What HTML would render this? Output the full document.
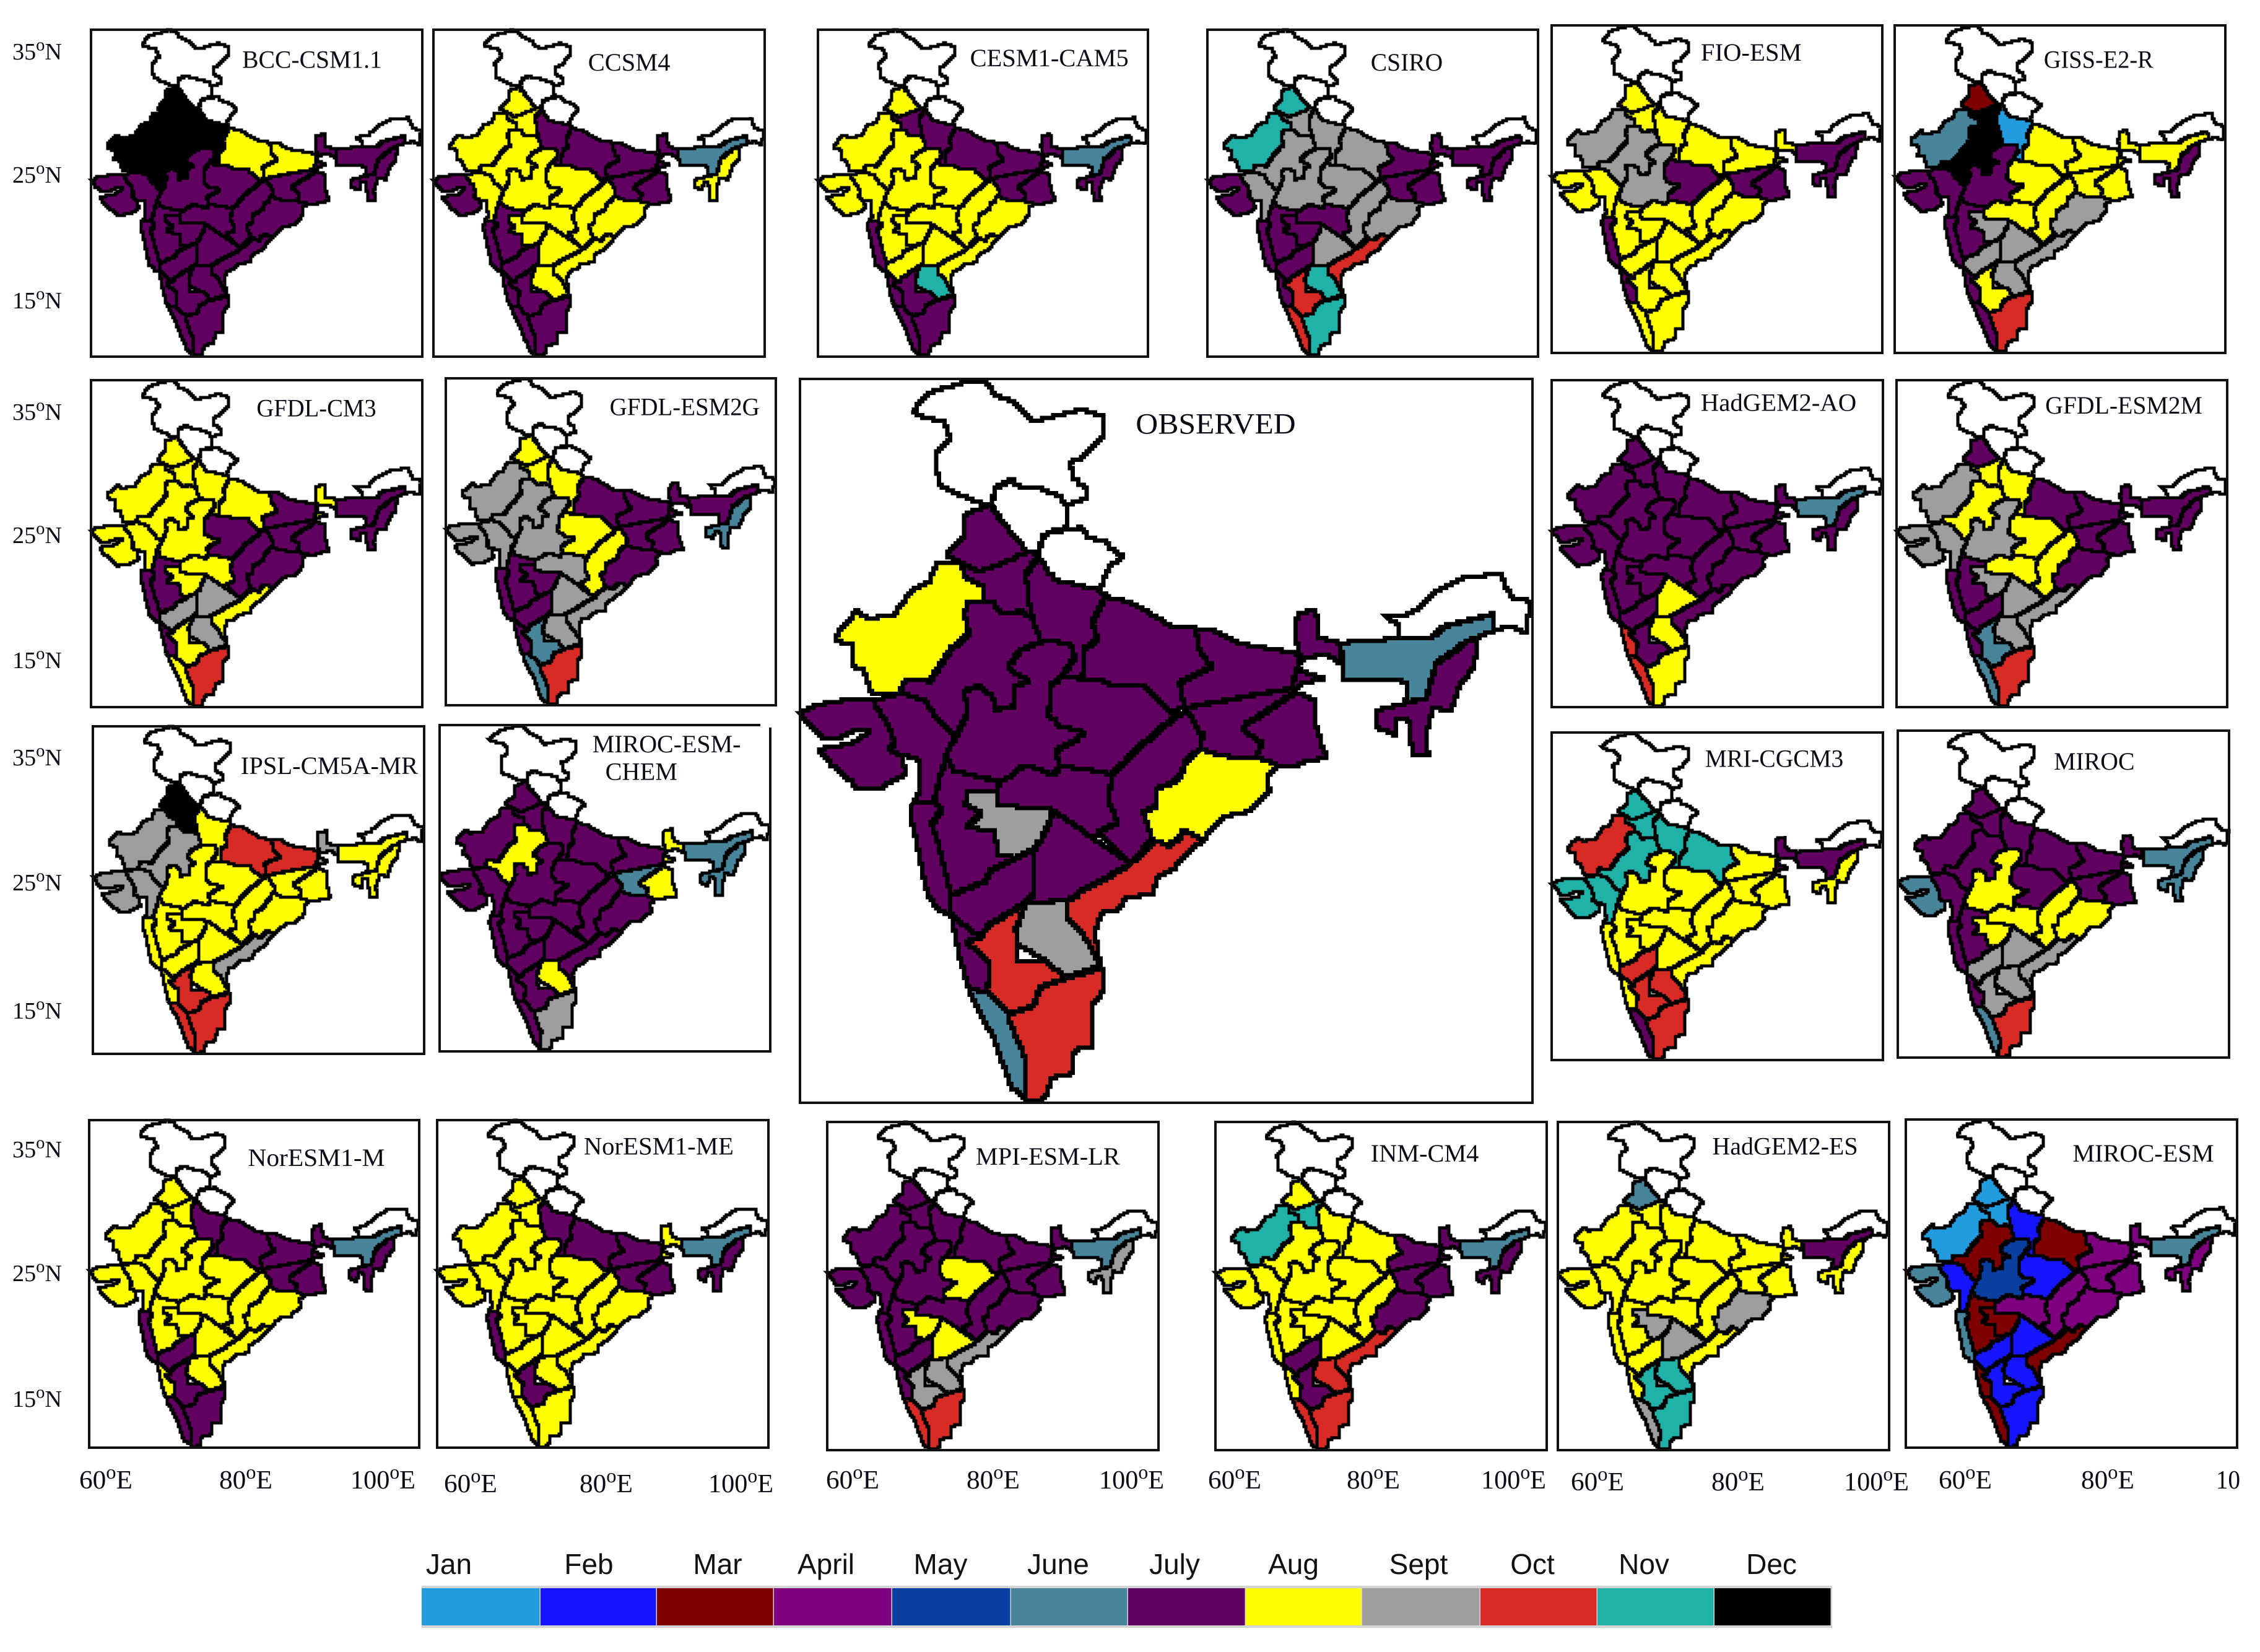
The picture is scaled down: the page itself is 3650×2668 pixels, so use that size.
<!DOCTYPE html>
<html lang="en">
<head>
<meta charset="utf-8">
<title>Monsoon peak month maps of India</title>
<style>
html,body{margin:0;padding:0;background:#fff;width:3650px;height:2668px;overflow:hidden}
svg{display:block}
text{font-family:"Liberation Serif",serif;fill:#0a0a14}
.leg{font-family:"Liberation Sans",sans-serif;font-size:46px;fill:#111}
</style>
</head>
<body>
<svg id="figure" xmlns="http://www.w3.org/2000/svg" width="3650" height="2668" viewBox="0 0 3650 2668"></svg>
<script>
const months=["Jan","Feb","Mar","April","May","June","July","Aug","Sept","Oct","Nov","Dec"];
const monthColors=["#229bdf","#1515ff","#7f0000","#7f007f","#083fa0","#48859b","#620062","#ffff00","#9e9e9e","#d92b26","#20b2a8","#000000"];
const regionNames=["punjab","haryana","west-rajasthan","east-rajasthan","west-up","east-up","bihar","jharkhand","gangetic-wb","sub-himalayan-wb","assam-meghalaya","nmmt","saurashtra-kutch","gujarat","west-mp","east-mp","chhattisgarh","odisha","vidarbha","marathwada","madhya-maharashtra","konkan-goa","north-karnataka","telangana","coastal-andhra","rayalaseema","south-karnataka","coastal-karnataka","kerala","tamil-nadu"];

// Peak month (1-12) per subdivision, in regionNames order
const observedMonths=[7,7,8,7,7,7,7,7,7,7,6,7,7,7,7,7,7,8,7,9,7,7,7,7,10,9,10,7,6,10];
const bccMonths=[12,12,12,12,12,8,8,7,7,7,7,7,7,7,7,7,7,7,7,7,7,7,7,7,7,7,7,7,7,7];
const ccsm4Months=[8,8,8,8,7,7,7,7,7,7,6,8,7,8,8,8,8,8,8,8,7,7,7,8,8,8,7,7,7,7];
const cesmMonths=[8,7,8,8,7,7,7,7,7,7,6,7,8,8,8,8,8,8,8,8,8,7,8,8,8,11,7,7,7,7];
const csiroMonths=[11,9,11,9,9,9,7,7,7,7,7,7,7,9,9,9,9,9,7,7,7,7,7,9,10,11,10,7,10,11];
const fioMonths=[8,8,9,9,8,8,8,7,7,8,7,7,8,8,9,7,8,8,8,8,8,7,8,8,8,8,8,7,8,8];
const gissMonths=[3,12,6,12,1,8,8,8,8,8,8,7,7,7,7,8,8,9,8,9,7,7,9,9,9,9,8,7,7,10];
const gfdlCm3Months=[8,8,8,8,8,8,7,7,7,8,7,7,8,8,8,7,7,7,8,8,7,7,9,9,8,9,8,7,8,10];
const gfdlEsm2gMonths=[8,8,9,9,8,7,7,7,7,7,7,6,9,9,9,8,8,7,9,7,7,7,7,9,9,9,6,7,6,10];
const hadAoMonths=[7,7,7,7,7,7,7,7,7,7,6,7,7,7,7,7,7,7,7,7,7,7,7,8,7,8,7,10,10,8];
const gfdlEsm2mMonths=[7,8,9,8,8,7,7,7,7,7,7,7,9,9,9,8,8,7,8,9,7,7,7,9,9,9,6,7,6,10];
const ipslMonths=[12,12,9,9,8,10,10,8,8,9,8,8,9,9,8,8,8,8,8,8,8,8,8,8,9,8,10,8,10,10];
const chemMonths=[7,7,7,8,7,7,7,6,8,8,6,6,7,7,7,7,7,7,7,7,7,7,7,7,7,8,7,7,7,9];
const mriMonths=[11,11,10,11,11,11,8,8,8,7,7,8,11,11,8,8,8,8,8,8,8,8,10,8,8,10,10,8,7,10];
const mirocMonths=[7,7,7,7,7,7,7,7,7,7,6,6,6,7,8,7,8,8,8,8,7,7,9,9,9,9,9,7,6,10];
const norMMonths=[8,8,8,8,7,7,7,7,7,7,6,7,8,8,8,8,8,8,8,8,8,7,7,8,8,8,7,8,7,7];
const norMeMonths=[8,8,8,8,7,7,7,7,7,8,6,7,8,8,8,8,8,8,8,8,8,7,8,8,8,8,7,8,8,8];
const mpiMonths=[7,7,7,7,7,7,7,7,7,7,6,9,7,7,7,8,7,7,7,8,7,7,7,8,9,9,9,7,10,10];
const inmMonths=[8,11,11,8,8,8,7,7,7,7,6,7,8,8,8,8,8,7,8,8,8,8,7,8,10,10,7,8,10,10];
const hadEsMonths=[6,8,8,8,8,8,8,8,8,8,7,8,8,8,8,8,8,9,8,9,8,8,8,9,8,11,11,8,9,11];
const mirocEsmMonths=[1,1,1,3,2,3,4,4,4,4,6,4,6,2,5,2,4,4,4,3,3,6,2,2,3,2,2,3,3,2];

// Basemap outlines (template coordinates; frame runs 50..1478 by 27..1530)
const mapLeft=50,mapRight=1478,mapTop=27,mapBottom=1530;
const whiteAreas=[
 ["jammu-kashmir",[[265,95],[300,55],[380,30],[410,35],[430,60],[470,80],[500,115],[545,105],[595,90],[640,105],[640,150],[605,190],[578,200],[580,235],[605,250],[610,275],[570,290],[555,270],[515,255],[480,250],[460,238],[430,255],[425,288],[395,282],[370,270],[320,245],[315,180],[345,145],[330,115],[290,105]]],
 ["himachal",[[425,288],[430,255],[460,238],[480,250],[515,255],[555,270],[570,290],[572,335],[525,350],[515,385],[495,385],[455,335]]],
 ["uttarakhand",[[515,385],[525,350],[572,340],[595,335],[610,355],[640,365],[680,398],[650,425],[635,465],[590,455],[545,445],[515,398]]],
 ["arunachal",[[1190,520],[1240,515],[1285,470],[1340,440],[1415,432],[1435,480],[1475,490],[1470,520],[1465,555],[1440,540],[1405,550],[1400,515],[1310,540],[1280,565],[1220,565],[1215,535]]]
];
const regionShapes=[
 [[420,290],[372,310],[372,355],[335,393],[365,410],[395,428],[440,410],[495,385],[455,335]],
 [[365,410],[395,428],[440,410],[495,385],[515,398],[490,430],[495,480],[505,525],[480,510],[440,515],[425,490],[410,487],[410,460],[370,440]],
 [[315,410],[365,410],[370,440],[410,460],[410,487],[380,490],[370,515],[380,555],[345,590],[300,655],[255,650],[245,680],[190,680],[175,630],[150,620],[155,580],[120,570],[125,545],[160,510],[180,525],[235,515],[265,465],[300,450]],
 [[380,490],[410,487],[425,490],[440,515],[480,510],[505,525],[520,572],[480,590],[455,625],[500,655],[470,665],[470,705],[430,715],[425,685],[395,665],[370,675],[378,720],[355,765],[320,740],[290,695],[245,680],[255,650],[300,655],[345,590],[380,555],[370,515]],
 [[515,398],[545,445],[590,455],[635,465],[645,480],[620,530],[630,565],[605,590],[600,650],[560,645],[585,605],[575,575],[520,572],[505,525],[495,480],[490,430]],
 [[645,480],[690,490],[770,540],[820,545],[830,590],[855,625],[790,660],[800,710],[770,720],[720,665],[660,665],[630,650],[600,650],[605,590],[630,565],[620,530]],
 [[820,545],[850,545],[900,575],[1005,595],[1025,600],[1010,670],[900,690],[800,710],[790,660],[855,625],[830,590]],
 [[800,710],[900,690],[1010,670],[1015,678],[920,745],[915,755],[950,780],[940,815],[870,810],[830,795],[835,770]],
 [[1015,678],[1055,695],[1055,745],[1075,815],[1040,820],[1020,830],[985,830],[940,815],[950,780],[915,755],[920,745]],
 [[1020,515],[1055,505],[1062,565],[1105,575],[1105,615],[1080,600],[1035,605],[1020,630],[1070,650],[1030,660],[1015,678],[1010,670],[1025,600],[1015,555]],
 [[1105,575],[1220,565],[1280,565],[1310,540],[1400,515],[1405,550],[1345,575],[1290,620],[1270,690],[1230,700],[1235,660],[1215,650],[1110,650]],
 [[1345,575],[1370,565],[1365,625],[1340,660],[1320,715],[1285,710],[1270,770],[1275,810],[1245,810],[1235,730],[1215,730],[1210,765],[1175,750],[1175,715],[1230,700],[1270,690],[1290,620]],
 [[50,720],[75,705],[130,695],[190,695],[220,740],[235,780],[225,795],[250,810],[255,850],[215,875],[170,880],[130,845],[88,795],[150,784],[184,757],[160,757],[130,772],[96,772]],
 [[190,695],[245,680],[290,695],[320,740],[355,770],[335,810],[325,850],[310,905],[270,905],[285,880],[280,815],[260,810],[250,810],[225,795],[235,780],[220,740]],
 [[378,720],[370,675],[395,665],[425,685],[430,715],[470,705],[470,665],[500,655],[455,625],[480,590],[520,572],[575,575],[585,605],[560,645],[540,665],[535,720],[560,750],[610,760],[550,800],[555,830],[545,850],[490,830],[450,860],[400,855],[350,840],[335,810],[355,765]],
 [[560,645],[600,650],[630,650],[660,665],[720,665],[770,720],[790,725],[710,790],[660,850],[620,840],[555,830],[550,800],[610,760],[560,750],[535,720],[540,665]],
 [[790,725],[800,710],[835,770],[830,795],[800,825],[790,855],[745,880],[745,915],[720,925],[740,985],[695,1032],[650,985],[635,965],[670,950],[650,900],[660,850],[710,790]],
 [[830,795],[870,810],[940,815],[985,830],[960,855],[965,885],[930,925],[880,935],[835,985],[800,965],[770,1000],[745,985],[705,1022],[695,1032],[740,985],[720,925],[745,915],[745,880],[790,855],[800,825]],
 [[440,862],[490,830],[545,850],[555,830],[620,840],[660,850],[650,900],[670,950],[635,965],[625,985],[545,925],[530,918],[470,915],[435,912],[435,885]],
 [[375,885],[435,885],[435,912],[470,915],[530,918],[545,925],[520,985],[505,1005],[470,1022],[435,1015],[430,965],[375,960],[400,930],[372,910]],
 [[325,850],[335,810],[350,840],[400,855],[440,862],[435,885],[375,885],[372,910],[400,930],[375,960],[430,965],[435,1015],[470,1022],[420,1050],[410,1072],[345,1100],[320,1000],[305,950],[325,925],[310,905]],
 [[270,905],[310,905],[325,925],[305,950],[320,1000],[345,1100],[345,1140],[325,1130],[300,1100],[280,1000],[265,930]],
 [[345,1100],[410,1072],[420,1050],[470,1022],[505,1005],[505,1100],[490,1115],[415,1165],[400,1190],[345,1140]],
 [[545,925],[625,985],[695,1035],[610,1085],[570,1110],[490,1115],[505,1100],[505,1005],[520,985]],
 [[695,1035],[705,1022],[745,985],[770,1000],[800,965],[835,985],[785,1040],[745,1065],[740,1095],[690,1105],[670,1130],[640,1135],[625,1180],[635,1245],[600,1180],[570,1150],[570,1110],[610,1085]],
 [[490,1115],[570,1110],[570,1150],[600,1180],[635,1245],[565,1272],[530,1235],[475,1200],[470,1175]],
 [[415,1165],[490,1115],[470,1175],[475,1235],[530,1235],[565,1272],[520,1290],[505,1330],[455,1345],[415,1300],[420,1240],[372,1195],[400,1190]],
 [[345,1140],[400,1190],[372,1195],[420,1240],[415,1300],[380,1295],[360,1220]],
 [[380,1295],[415,1300],[455,1345],[490,1440],[488,1520],[460,1490],[430,1400]],
 [[455,1345],[505,1330],[520,1290],[565,1272],[640,1250],[640,1300],[620,1330],[620,1415],[585,1420],[580,1470],[540,1480],[530,1522],[488,1525],[490,1440]]
];

const K=3650/1568;
const panels=[
 {id:"bcc-csm11",v:bccMonths,f:[147,48,682,576],t:[["BCC-CSM1.1",168,265,47]]},
 {id:"ccsm4",v:ccsm4Months,f:[700,48,1235,576],t:[["CCSM4",408,465,49]]},
 {id:"cesm1-cam5",v:cesmMonths,f:[1321,48,1854,576],t:[["CESM1-CAM5",673,783,46]]},
 {id:"csiro",v:csiroMonths,f:[1950,48,2484,576],t:[["CSIRO",951,1001,49]]},
 {id:"fio-esm",v:fioMonths,f:[2506,41,3040,570],t:[["FIO-ESM",1180,1250,42]]},
 {id:"giss-e2-r",v:gissMonths,f:[3060,41,3594,570],t:[["GISS-E2-R",1418,1494,47]]},
 {id:"gfdl-cm3",v:gfdlCm3Months,f:[147,614,682,1142],t:[["GFDL-CM3",178,261,289]]},
 {id:"gfdl-esm2g",v:gfdlEsm2gMonths,f:[720,611,1253,1139],t:[["GFDL-ESM2G",423,527,288]]},
 {id:"observed",v:observedMonths,f:[1292,612,2475,1781],t:[["OBSERVED",788,899,301]],big:true},
 {id:"hadgem2-ao",v:hadAoMonths,f:[2506,614,3041,1142],t:[["HadGEM2-AO",1180,1288,285]]},
 {id:"gfdl-esm2m",v:gfdlEsm2mMonths,f:[3063,614,3597,1142],t:[["GFDL-ESM2M",1419,1528,287]]},
 {id:"ipsl-cm5a-mr",v:ipslMonths,f:[150,1173,685,1702],t:[["IPSL-CM5A-MR",167,290,537]]},
 {id:"miroc-esm-chem",v:chemMonths,f:[710,1171,1244,1698],t:[["MIROC-ESM-",411,514,522],["CHEM",420,470,541]]},
 {id:"mri-cgcm3",v:mriMonths,f:[2506,1183,3041,1712],t:[["MRI-CGCM3",1183,1279,532]]},
 {id:"miroc",v:mirocMonths,f:[3065,1180,3600,1708],t:[["MIROC",1425,1481,534]]},
 {id:"noresm1-m",v:norMMonths,f:[144,1809,677,2338],t:[["NorESM1-M",172,267,809]]},
 {id:"noresm1-me",v:norMeMonths,f:[706,1809,1241,2338],t:[["NorESM1-ME",405,509,801]]},
 {id:"mpi-esm-lr",v:mpiMonths,f:[1336,1812,1871,2342],t:[["MPI-ESM-LR",677,777,808]]},
 {id:"inm-cm4",v:inmMonths,f:[1963,1812,2498,2342],t:[["INM-CM4",951,1026,806]]},
 {id:"hadgem2-es",v:hadEsMonths,f:[2516,1812,3051,2342],t:[["HadGEM2-ES",1188,1289,801]]},
 {id:"miroc-esm",v:mirocEsmMonths,f:[3078,1808,3613,2338],t:[["MIROC-ESM",1438,1536,806]]}
];

const latValues=["35","25","15"];
const latRows=[[96,295,498],[678,877,1079],[1236,1438,1645],[1869,2069,2272]];
const lonValues=["60","80","100"];
const lonRows=[
 {y:2404,x:[128,354,566]},
 {y:2410,x:[717,936,1144]},
 {y:2404,x:[1334,1561,1775]},
 {y:2404,x:[1951,2175,2392]},
 {y:2407,x:[2537,2764,2978]},
 {y:2404,x:[3131,3361,3579]}
];
const legendEdges=[681,873,1061,1250,1441,1633,1822,2012,2200,2391,2580,2769,2958];
const legendCenters=[725,951,1159,1334,1519,1709,1897,2089,2291,2475,2655,2861];

const NS="http://www.w3.org/2000/svg";
const fig=document.getElementById("figure");
function mk(tag,attrs,parent){
  const e=document.createElementNS(NS,tag);
  for(const k in attrs)e.setAttribute(k,attrs[k]);
  (parent||fig).appendChild(e);
  return e;
}
function stairPath(pts,sx,sy,ox,oy,cell){
  const snap=v=>Math.round(v/cell)*cell;
  let d="",cx=null,cy=null;
  const P=pts.map(p=>[ox+(p[0]-mapLeft)*sx,oy+(p[1]-mapTop)*sy]);
  for(let i=0;i<P.length;i++){
    const a=P[i],b=P[(i+1)%P.length];
    const n=Math.max(1,Math.ceil(Math.max(Math.abs(b[0]-a[0]),Math.abs(b[1]-a[1]))/cell));
    for(let s=0;s<n;s++){
      const x=snap(a[0]+(b[0]-a[0])*s/n),y=snap(a[1]+(b[1]-a[1])*s/n);
      if(cx===null){d+="M"+x+" "+y;}
      else{
        if(x!==cx)d+="H"+x;
        if(y!==cy)d+="V"+y;
      }
      cx=x;cy=y;
    }
  }
  return d+"Z";
}
function monthColor(m){return monthColors[m-1];}

panels.forEach(function(p){
  const g=mk("g",{});
  
  
  const [x0,y0,x1,y1]=p.f;
  const sx=(x1-x0)/(mapRight-mapLeft),sy=(y1-y0)/(mapBottom-mapTop);
  const cell=p.big?4.5:3,sw=p.big?7:4.8;
  whiteAreas.forEach(function(a){
    const el=mk("path",{d:stairPath(a[1],sx,sy,x0,y0,cell),fill:"#fff",stroke:"#000","stroke-width":sw,"shape-rendering":"crispEdges"},g);
    
    
  });
  regionShapes.forEach(function(s,i){
    const el=mk("path",{d:stairPath(s,sx,sy,x0,y0,cell),fill:monthColor(p.v[i]),stroke:"#000","stroke-width":sw,"shape-rendering":"crispEdges"},g);
    
    
  });
  const fr=mk("rect",{x:x0,y:y0,width:x1-x0,height:y1-y0,fill:"none",stroke:"#111","stroke-width":4},g);
  
  
  p.t.forEach(function(t){
    const tx=mk("text",{x:t[1]*K,y:t[3]*K,"font-size":p.big?48:40,textLength:(t[2]-t[1])*K,lengthAdjust:"spacingAndGlyphs"},g);
    tx.textContent=t[0];
    
    
  });
});
// MIROC-ESM-CHEM frame has a broken top-right corner
const cornerGap=mk("rect",{x:1228,y:1165,width:20,height:10,fill:"#fff"});



function degLabel(x,y,num,suffix,size,width,parent){
  const t=mk("text",{x:x,y:y,"font-size":size,textLength:width,lengthAdjust:"spacingAndGlyphs"},parent);
  const a=document.createElementNS(NS,"tspan");a.textContent=num;t.appendChild(a);
  if(suffix){
    const b=document.createElementNS(NS,"tspan");
    b.setAttribute("dy",-size*0.38);b.setAttribute("font-size",size*0.75);b.textContent="o";t.appendChild(b);
    const c=document.createElementNS(NS,"tspan");
    c.setAttribute("dy",size*0.38);c.textContent=suffix;t.appendChild(c);
  }
  return t;
}
latRows.forEach(function(row){
  row.forEach(function(y,i){
    const t=degLabel(20,y,latValues[i],"N",38,80);
    
    
  });
});
lonRows.forEach(function(row,r){
  row.x.forEach(function(x,i){
    const last=(r===5&&i===2);
    const t=last?degLabel(x,row.y,"10","",42,39):degLabel(x,row.y,lonValues[i],"E",42,i===2?105:86);
    
    
  });
});

const legend=mk("g",{});


const legendBack=mk("rect",{x:681,y:2561,width:2278,height:68,fill:"#d4d4d4"},legend);


months.forEach(function(m,i){
  const c=mk("rect",{x:legendEdges[i],y:2565,width:legendEdges[i+1]-legendEdges[i]-1.5,height:60,fill:monthColors[i]},legend);
  
  
  const t=mk("text",{x:legendCenters[i],y:2542,"text-anchor":"middle","class":"leg"},legend);
  t.textContent=m;
  
  
});
</script>
</body>
</html>
